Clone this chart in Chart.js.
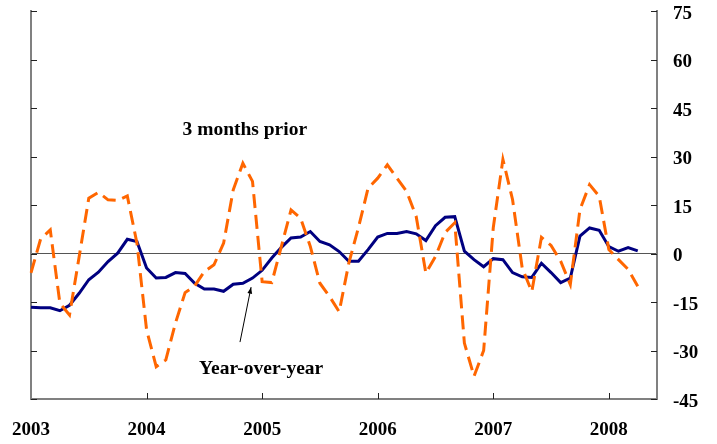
<!DOCTYPE html>
<html>
<head>
<meta charset="utf-8">
<script src="https://cdn.jsdelivr.net/npm/chart.js@4.4.0/dist/chart.umd.min.js"></script>
<style>
  body { margin: 0; background: #fff; }
  #wrap { width: 717px; height: 444px; position: relative; }
</style>
</head>
<body>
<div id="wrap"><canvas id="line-chart"></canvas></div>
<script>
// Tahun di sumbu x (bulan Jan 2003 - Jun 2008)
const years = ["2003", "2004", "2005", "2006", "2007", "2008"];
const months = [];
years.forEach((y) => {
  for (let m = 1; m <= 12; m++) months.push(y + "-" + String(m).padStart(2, "0"));
});
const monthLabels = months.slice(0, 66);

// Year-over-year (garis biru)
const yearOverYear = [
  -16.6, -16.8, -16.8, -17.7, -16.0, -12.3, -8.1, -5.8, -2.5, 0.1, 4.4, 3.7,
  -4.5, -7.6, -7.4, -5.9, -6.2, -9.2, -11.0, -11.0, -11.7, -9.5, -9.2, -7.6,
  -5.2, -1.4, 1.9, 4.8, 5.1, 6.8, 3.7, 2.7, 0.6, -2.4, -2.4, 1.2,
  5.1, 6.2, 6.2, 6.8, 6.1, 4.0, 8.6, 11.2, 11.4, 0.7, -1.9, -4.1,
  -1.6, -1.9, -5.9, -7.2, -7.4, -3.0, -5.9, -9.0, -7.6, 5.4, 7.9, 7.2,
  2.1, 0.7, 1.8, 0.8,
];

// 3 months prior (garis oranye putus-putus)
const threeMonthsPrior = [
  -6.0, 4.5, 7.3, -15.4, -19.0, -1.0, 17.1, 18.9, 16.6, 16.4, 17.8, 3.2,
  -23.6, -35.0, -32.9, -21.5, -12.1, -10.0, -5.6, -3.5, 3.2, 19.7, 27.9, 22.3,
  -8.7, -9.0, 2.2, 13.5, 10.9, 2.2, -9.2, -13.3, -18.0, -3.0, 8.0, 20.2,
  23.3, 27.4, 23.3, 19.2, 11.4, -6.1, -0.9, 6.5, 9.5, -27.7, -38.0, -30.0,
  8.0, 29.1, 16.7, -4.4, -11.8, 5.0, 2.5, -2.4, -9.6, 13.6, 21.3, 17.7,
  1.2, -1.9, -4.9, -10.1,
];

const yTicks = [-45, -30, -15, 0, 15, 30, 45, 60, 75];

const serifBold = { family: "'Liberation Serif', 'Times New Roman', serif", size: 19, weight: "bold" };

// Plugin untuk tick ke dalam, label dan panah
const decorPlugin = {
  id: "decor",
  afterDraw(chart) {
    const { ctx, chartArea, scales } = chart;
    const x = scales.x;
    const y = scales.y;
    ctx.save();
    ctx.strokeStyle = "#222";
    ctx.lineWidth = 1;
    yTicks.forEach((v) => {
      const py = Math.round(y.getPixelForValue(v)) + 0.5;
      ctx.beginPath();
      ctx.moveTo(chartArea.left, py);
      ctx.lineTo(chartArea.left + 6, py);
      ctx.moveTo(chartArea.right, py);
      ctx.lineTo(chartArea.right - 6, py);
      ctx.stroke();
    });
    monthLabels.forEach((lab, i) => {
      if (!lab.endsWith("-01") || i === 0) return;
      const px = Math.round(x.getPixelForValue(i)) + 0.5;
      ctx.beginPath();
      ctx.moveTo(px, chartArea.bottom);
      ctx.lineTo(px, chartArea.bottom - 6);
      ctx.stroke();
    });

    ctx.fillStyle = "#000";
    ctx.font = "bold 19.5px 'Liberation Serif', 'Times New Roman', serif";
    ctx.textAlign = "center";
    ctx.textBaseline = "middle";
    ctx.fillText("3 months prior", x.getPixelForValue(22.2), y.getPixelForValue(38.2));
    ctx.fillText("Year-over-year", x.getPixelForValue(23.9), y.getPixelForValue(-35.7));

    // panah
    const x1 = x.getPixelForValue(21.7), y1 = y.getPixelForValue(-27.4);
    const x2 = x.getPixelForValue(22.85), y2 = y.getPixelForValue(-10.4);
    const ang = Math.atan2(y2 - y1, x2 - x1);
    ctx.strokeStyle = "#000";
    ctx.beginPath();
    ctx.moveTo(x1, y1);
    ctx.lineTo(x2, y2);
    ctx.stroke();
    ctx.beginPath();
    ctx.moveTo(x2, y2);
    ctx.lineTo(x2 - 7 * Math.cos(ang - 0.35), y2 - 7 * Math.sin(ang - 0.35));
    ctx.lineTo(x2 - 7 * Math.cos(ang + 0.35), y2 - 7 * Math.sin(ang + 0.35));
    ctx.closePath();
    ctx.fill();
    ctx.restore();
  },
};

// Menghilangkan padding otomatis dari label sumbu
function noPad(scale) {
  scale.paddingTop = 0;
  scale.paddingBottom = 0;
  scale.paddingLeft = 0;
  scale.paddingRight = 0;
}

const ctx = document.getElementById("line-chart").getContext("2d");
new Chart(ctx, {
  type: "line",
  data: {
    labels: monthLabels,
    datasets: [
      {
        label: "3 months prior",
        data: threeMonthsPrior,
        borderColor: "#FF6600",
        borderWidth: 3,
        borderDash: [14, 7],
        pointRadius: 0,
        tension: 0,
        fill: false,
      },
      {
        label: "Year-over-year",
        data: yearOverYear,
        borderColor: "#000080",
        borderWidth: 3,
        pointRadius: 0,
        tension: 0,
        fill: false,
      },
    ],
  },
  options: {
    responsive: true,
    maintainAspectRatio: false,
    animation: false,
    layout: { padding: { left: 31, top: 11, right: 0, bottom: 0 } },
    plugins: {
      legend: { display: false },
      tooltip: { enabled: false },
      title: { display: false },
    },
    scales: {
      x: {
        type: "category",
        offset: false,
        grid: { display: false },
        border: { display: true, color: "#808080", width: 2 },
        ticks: {
          autoSkip: false,
          maxRotation: 0,
          padding: 12,
          color: "#000",
          font: serifBold,
          callback: function (value) {
            const lab = this.getLabelForValue(value);
            return lab.endsWith("-01") ? lab.slice(0, 4) : null;
          },
        },
        afterFit: (scale) => { scale.height = 45; noPad(scale); },
      },
      yLeft: {
        position: "left",
        min: -45,
        max: 75,
        grid: { display: false },
        border: { display: true, color: "#808080", width: 2 },
        ticks: { display: false },
        afterFit: (scale) => { scale.width = 0; noPad(scale); },
      },
      y: {
        position: "right",
        min: -45,
        max: 75,
        grid: {
          drawTicks: false,
          color: (c) => (c.tick && c.tick.value === 0 ? "#555" : "rgba(0,0,0,0)"),
          lineWidth: 1,
        },
        border: { display: true, color: "#808080", width: 2 },
        ticks: {
          stepSize: 15,
          padding: 16,
          labelOffset: 3,
          crossAlign: "near",
          color: "#000",
          font: serifBold,
        },
        afterFit: (scale) => { scale.width = 60; noPad(scale); },
      },
    },
  },
  plugins: [decorPlugin],
});
</script>
</body>
</html>
